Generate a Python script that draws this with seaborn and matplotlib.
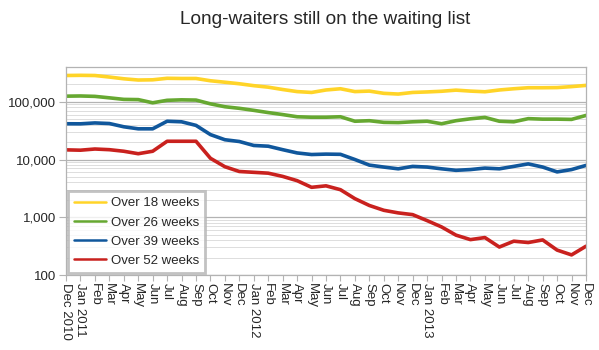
import numpy as np
import pandas as pd
import matplotlib
matplotlib.use("Agg")
import matplotlib.pyplot as plt
import matplotlib.ticker as mticker
import seaborn as sns

# ---------------------------------------------------
# Data
# ---------------------------------------------------
months = ["Dec 2010", "Jan 2011", "Feb", "Mar", "Apr", "May", "Jun", "Jul", "Aug",
          "Sep", "Oct", "Nov", "Dec", "Jan 2012", "Feb", "Mar", "Apr", "May", "Jun",
          "Jul", "Aug", "Sep", "Oct", "Nov", "Dec", "Jan 2013", "Feb", "Mar", "Apr",
          "May", "Jun", "Jul", "Aug", "Sep", "Oct", "Nov", "Dec"]

over_18 = [285000, 287000, 285000, 268000, 250000, 238000, 240000, 255000, 253000,
           253000, 231000, 218000, 205000, 190000, 179000, 163000, 150000, 145000,
           160000, 168000, 150000, 153000, 140000, 136000, 145000, 148000, 152000,
           159000, 153000, 149000, 160000, 168000, 175000, 175000, 176000, 183000,
           192000]

over_26 = [125000, 126000, 124000, 117000, 110000, 109000, 96000, 106000, 108000,
           107000, 92000, 82000, 77000, 71000, 65000, 60000, 55000, 54000, 54000,
           55000, 46000, 47000, 44000, 43600, 45000, 46000, 41600, 47000, 50700,
           53600, 46000, 45000, 51000, 50000, 50000, 49500, 58000]

over_39 = [41600, 41500, 43000, 42000, 36900, 34000, 34000, 46000, 45000, 39000,
           27000, 22000, 20500, 17500, 17000, 14800, 13000, 12200, 12400, 12300,
           10000, 8000, 7400, 6900, 7600, 7400, 6900, 6500, 6700, 7100, 6900, 7600,
           8400, 7400, 6100, 6700, 7900]

over_52 = [14700, 14500, 15200, 14800, 13900, 12600, 13900, 20700, 20700, 20700,
           10500, 7500, 6200, 6000, 5800, 5100, 4300, 3300, 3500, 3000, 2100, 1600,
           1320, 1190, 1110, 875, 680, 490, 410, 445, 305, 385, 365, 405, 270, 223,
           315]

series_names = ["Over 18 weeks", "Over 26 weeks", "Over 39 weeks", "Over 52 weeks"]
colors = ["#FFD428", "#66A831", "#10579C", "#C9211E"]

frames = []
for name, vals in zip(series_names, [over_18, over_26, over_39, over_52]):
    frames.append(pd.DataFrame({"month": np.arange(len(months)), "value": vals,
                                "series": name}))
df = pd.concat(frames, ignore_index=True)

# ---------------------------------------------------
# Plot
# ---------------------------------------------------
sns.set_theme(style="white")
plt.rcParams["font.family"] = ["Liberation Sans", "DejaVu Sans"]

fig = plt.figure(figsize=(5.99, 3.5), dpi=100)
ax = fig.add_axes([66 / 599, 75 / 350, 520 / 599, 208 / 350])

sns.lineplot(data=df, x="month", y="value", hue="series", palette=colors,
             linewidth=2.6, ax=ax, legend=True)

ax.set_yscale("log")
ax.set_ylim(100, 400000)
ax.set_xlim(0, len(months) - 1)

ax.yaxis.set_major_locator(mticker.LogLocator(base=10, numticks=10))
ax.yaxis.set_major_formatter(mticker.FuncFormatter(lambda v, p: f"{int(v):,}"))
ax.yaxis.set_minor_locator(mticker.LogLocator(base=10, subs=np.arange(2, 10), numticks=10))
ax.yaxis.set_minor_formatter(mticker.NullFormatter())
ax.grid(which="major", axis="y", color="#b3b3b3", linewidth=0.9)
ax.grid(which="minor", axis="y", color="#dddddd", linewidth=0.7)
ax.set_axisbelow(True)

ax.set_xticks(np.arange(len(months)))
ax.set_xticklabels(months, rotation=-90, fontsize=9.5, va="top", ha="center")
ax.tick_params(axis="x", which="major", bottom=True, length=4, width=0.8,
               color="#b3b3b3", pad=2)
ax.tick_params(axis="y", which="major", left=True, labelsize=9.5, length=5,
               width=0.8, color="#b3b3b3", pad=2)
ax.tick_params(axis="y", which="minor", length=0)

for s in ax.spines.values():
    s.set_color("#b3b3b3")
    s.set_linewidth(0.9)

ax.set_xlabel("")
ax.set_ylabel("")

handles, labels = ax.get_legend_handles_labels()
leg = ax.legend(handles, labels, loc="lower left", bbox_to_anchor=(0.0, 0.0),
                borderaxespad=0.15, fontsize=9.5, frameon=True, fancybox=False,
                handlelength=2.4, handletextpad=0.4, borderpad=0.45,
                labelspacing=0.53)
leg.get_frame().set_edgecolor("#b3b3b3")
leg.get_frame().set_linewidth(2)
for line in leg.get_lines():
    line.set_linewidth(1.8)

fig.suptitle("Long-waiters still on the waiting list", x=325 / 599, y=1 - 20 / 350,
             va="center", fontsize=13.7)

fig.savefig("out.png", dpi=100)
